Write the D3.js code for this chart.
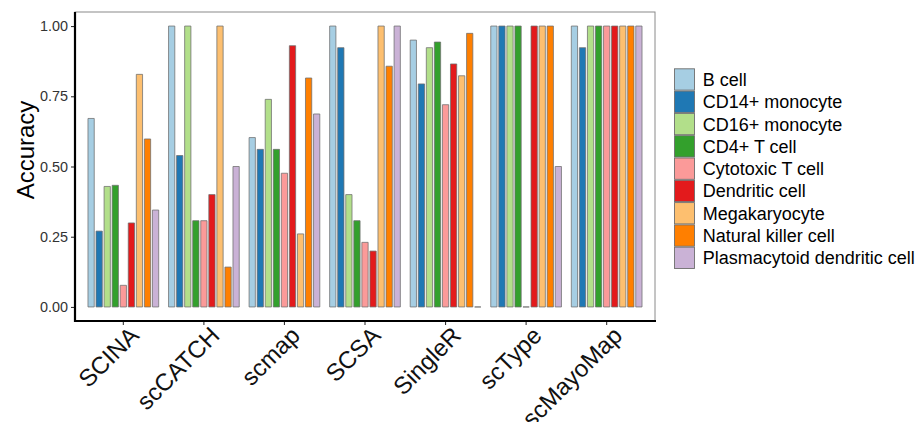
<!DOCTYPE html>
<html>
<head>
<meta charset="utf-8">
<script src="https://cdn.jsdelivr.net/npm/d3@7"></script>
<style>
  html, body { margin: 0; padding: 0; background: #fff; }
  svg { display: block; font-family: "Liberation Sans", Arial, sans-serif; }
</style>
</head>
<body>
<svg id="chart" width="919" height="422"></svg>
<script>
const methods = ["SCINA", "scCATCH", "scmap", "SCSA", "SingleR", "scType", "scMayoMap"];
const cellTypes = ["B cell", "CD14+ monocyte", "CD16+ monocyte", "CD4+ T cell", "Cytotoxic T cell",
  "Dendritic cell", "Megakaryocyte", "Natural killer cell", "Plasmacytoid dendritic cell"];
const colors = ["#A6CEE3", "#1F78B4", "#B2DF8A", "#33A02C", "#FB9A99", "#E31A1C", "#FDBF6F", "#FF7F00", "#CAB2D6"];

// accuracy per method, in cellTypes order
const SCINA     = [0.671, 0.270, 0.429, 0.433, 0.077, 0.299, 0.828, 0.598, 0.345];
const scCATCH   = [1.000, 0.539, 1.000, 0.307, 0.307, 0.400, 1.000, 0.142, 0.500];
const scmap     = [0.603, 0.561, 0.739, 0.561, 0.476, 0.930, 0.260, 0.815, 0.687];
const SCSA      = [1.000, 0.923, 0.400, 0.307, 0.230, 0.199, 1.000, 0.857, 1.000];
const SingleR   = [0.950, 0.794, 0.923, 0.943, 0.720, 0.865, 0.823, 0.974, 0.000];
const scType    = [1.000, 1.000, 1.000, 1.000, 0.000, 1.000, 1.000, 1.000, 0.500];
const scMayoMap = [1.000, 0.923, 1.000, 1.000, 1.000, 1.000, 1.000, 1.000, 1.000];
const values = [SCINA, scCATCH, scmap, SCSA, SingleR, scType, scMayoMap];

const yTicks = [0, 0.25, 0.5, 0.75, 1.0];
const yTickLabels = ["0.00", "0.25", "0.50", "0.75", "1.00"];
const yTitle = "Accuracy";

const svg = d3.select("#chart");
const panel = { left: 75, right: 655, top: 12, bottom: 321 };

const x = d3.scaleBand().domain(methods).range([panel.left, panel.right])
  .paddingInner(0).paddingOuter(0.1);
const sub = d3.scaleBand().domain(cellTypes).range([0, x.bandwidth() * 0.9]).paddingInner(0);
const barW = x.bandwidth() * 0.7 / cellTypes.length;
const y = d3.scaleLinear().domain([-0.05, 1.05]).range([panel.bottom, panel.top]);
const color = d3.scaleOrdinal().domain(cellTypes).range(colors);

// panel border (top/right grey)
svg.append("rect")
  .attr("x", panel.left).attr("y", panel.top)
  .attr("width", panel.right - panel.left).attr("height", panel.bottom - panel.top)
  .attr("fill", "none").attr("stroke", "#8a8a8a").attr("stroke-width", 1);

// bars
const data = [];
methods.forEach((m, i) => cellTypes.forEach((c, j) => data.push({ m, c, v: values[i][j] })));
const offset0 = (x.bandwidth() - x.bandwidth() * 0.9) / 2;
svg.append("g").selectAll("path").data(data).join("path")
  .attr("d", d => {
    const cx = x(d.m) + offset0 + sub(d.c) + sub.bandwidth() / 2;
    const x0 = cx - barW / 2, y0 = y(0), y1 = y(d.v);
    return `M${x0},${y0}H${x0 + barW}V${y1}H${x0}Z`;
  })
  .attr("fill", d => color(d.c))
  .attr("stroke", "#6e6e6e").attr("stroke-opacity", 0.85).attr("stroke-width", 0.9);

// y axis
const yAxis = svg.append("g").attr("transform", `translate(${panel.left},0)`)
  .call(d3.axisLeft(y).tickValues(yTicks).tickFormat((d, i) => yTickLabels[i]).tickSize(4).tickPadding(3));
yAxis.select(".domain").remove();
yAxis.selectAll(".tick line").attr("stroke", "#333").attr("stroke-width", 1.1);
yAxis.selectAll(".tick text").attr("fill", "#333").style("font-size", "14.4px")
  .style("font-family", "Liberation Sans, Arial, sans-serif");

// x axis
const xAxis = svg.append("g").attr("transform", `translate(0,${panel.bottom})`)
  .call(d3.axisBottom(x).tickSize(4).tickFormat(""));
xAxis.select(".domain").remove();
xAxis.selectAll(".tick line").attr("stroke", "#333").attr("stroke-width", 1.1);

// thick axis lines
svg.append("line").attr("x1", panel.left).attr("x2", panel.left)
  .attr("y1", panel.top).attr("y2", panel.bottom + 1)
  .attr("stroke", "#000").attr("stroke-width", 2.2);
svg.append("line").attr("x1", panel.left - 1).attr("x2", panel.right + 1)
  .attr("y1", panel.bottom).attr("y2", panel.bottom)
  .attr("stroke", "#000").attr("stroke-width", 2.2);

// x labels rotated
svg.append("g").selectAll("text").data(methods).join("text")
  .attr("transform", d => `translate(${x(d) + x.bandwidth() / 2 + 17},337) rotate(-45)`)
  .attr("text-anchor", "end")
  .attr("fill", "#111")
  .style("font-size", "24px")
  .text(d => d);

// y title
svg.append("text")
  .attr("transform", "translate(34,150) rotate(-90)")
  .attr("text-anchor", "middle")
  .attr("fill", "#000")
  .style("font-size", "24px")
  .text(yTitle);

// legend
const lg = svg.append("g").attr("transform", "translate(674,68.3)");
const step = 22.3;
const items = lg.selectAll("g").data(cellTypes).join("g")
  .attr("transform", (d, i) => `translate(0,${i * step})`);
items.append("rect")
  .attr("x", 0.5).attr("y", 0.5).attr("width", 20).attr("height", step - 1)
  .attr("fill", d => color(d)).attr("stroke", "#6e6e6e").attr("stroke-width", 0.9);
items.append("text")
  .attr("x", 28.7).attr("y", step / 2)
  .attr("dy", "0.36em")
  .attr("fill", "#000")
  .style("font-size", "18px")
  .text(d => d);
</script>
</body>
</html>
